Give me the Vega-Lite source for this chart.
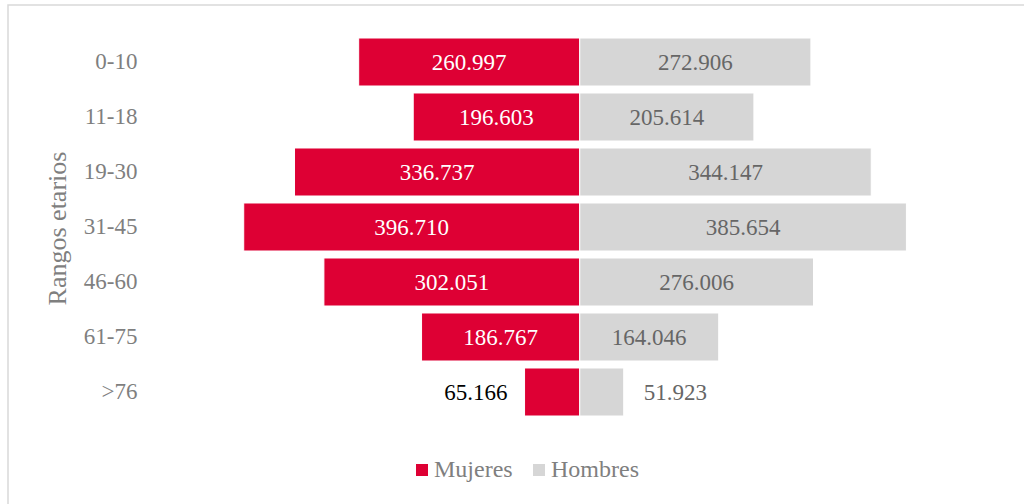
{
  "$schema": "https://vega.github.io/schema/vega-lite/v6.json",
  "width": 1030,
  "height": 510,
  "autosize": {"type": "none"},
  "padding": {"left": 8, "top": 5, "right": 0, "bottom": 0},
  "background": "white",
  "config": {
    "view": {"stroke": "#D9D9D9", "strokeWidth": 1.5},
    "font": "Liberation Serif",
    "locale": {"number": {"decimal": ",", "thousands": ".", "grouping": [3], "currency": ["", ""]}}
  },
  "data": {
    "values": [
      {"grupo": "0-10", "sexo": "Mujeres", "valor": 260997},
      {"grupo": "0-10", "sexo": "Hombres", "valor": 272906},
      {"grupo": "11-18", "sexo": "Mujeres", "valor": 196603},
      {"grupo": "11-18", "sexo": "Hombres", "valor": 205614},
      {"grupo": "19-30", "sexo": "Mujeres", "valor": 336737},
      {"grupo": "19-30", "sexo": "Hombres", "valor": 344147},
      {"grupo": "31-45", "sexo": "Mujeres", "valor": 396710},
      {"grupo": "31-45", "sexo": "Hombres", "valor": 385654},
      {"grupo": "46-60", "sexo": "Mujeres", "valor": 302051},
      {"grupo": "46-60", "sexo": "Hombres", "valor": 276006},
      {"grupo": "61-75", "sexo": "Mujeres", "valor": 186767},
      {"grupo": "61-75", "sexo": "Hombres", "valor": 164046},
      {"grupo": ">76", "sexo": "Mujeres", "valor": 65166},
      {"grupo": ">76", "sexo": "Hombres", "valor": 51923}
    ]
  },
  "transform": [
    {"calculate": "datum.sexo == 'Mujeres' ? -datum.valor : datum.valor", "as": "xv"},
    {"calculate": "datum.xv / 2", "as": "mid"}
  ],
  "encoding": {
    "y": {
      "field": "grupo",
      "type": "nominal",
      "sort": ["0-10", "11-18", "19-30", "31-45", "46-60", "61-75", ">76"],
      "scale": {"paddingInner": 0.127, "paddingOuter": 0, "range": [33, 411]},
      "axis": {
        "title": "Rangos etarios",
        "titleFont": "Liberation Serif",
        "titleFontSize": 26,
        "titleFontWeight": "normal",
        "titleColor": "#7F7F7F",
        "titleAngle": -90,
        "titleX": -80,
        "titleY": 223,
        "titleAlign": "center",
        "titleBaseline": "middle",
        "labelFont": "Liberation Serif",
        "labelFontSize": 23,
        "labelColor": "#7F7F7F",
        "labelPadding": 0,
        "ticks": false,
        "domain": false,
        "grid": false,
        "offset": -129
      }
    }
  },
  "layer": [
    {
      "mark": {"type": "bar", "stroke": "white", "strokeWidth": 1},
      "encoding": {
        "x": {"field": "xv", "type": "quantitative", "scale": {"domain": [-675000, 541000], "nice": false, "zero": false}, "axis": null},
        "color": {
          "field": "sexo",
          "type": "nominal",
          "scale": {"domain": ["Mujeres", "Hombres"], "range": ["#DE0034", "#D6D6D6"]},
          "legend": {
            "orient": "none",
            "legendX": 402,
            "legendY": 453,
            "direction": "horizontal",
            "title": null,
            "symbolType": "square",
            "symbolSize": 144,
            "symbolStrokeWidth": 0,
            "labelFont": "Liberation Serif",
            "labelFontSize": 24,
            "labelColor": "#7F7F7F",
            "labelOffset": 0,
            "columnPadding": 14
          }
        }
      }
    },
    {
      "transform": [{"filter": "datum.grupo != '>76'"}],
      "mark": {"type": "text", "fontSize": 23, "font": "Liberation Serif", "baseline": "middle", "dy": 1},
      "encoding": {
        "x": {"field": "mid", "type": "quantitative"},
        "text": {"field": "valor", "type": "quantitative", "format": ",d"},
        "color": {"condition": {"test": "datum.sexo == 'Mujeres'", "value": "#FFFFFF"}, "value": "#666666"}
      }
    },
    {
      "transform": [{"filter": "datum.grupo == '>76' && datum.sexo == 'Mujeres'"}],
      "mark": {"type": "text", "fontSize": 23, "font": "Liberation Serif", "baseline": "middle", "align": "right", "dx": -17, "dy": 1, "color": "#000000"},
      "encoding": {
        "x": {"field": "xv", "type": "quantitative"},
        "text": {"field": "valor", "type": "quantitative", "format": ",d"}
      }
    },
    {
      "transform": [{"filter": "datum.grupo == '>76' && datum.sexo == 'Hombres'"}],
      "mark": {"type": "text", "fontSize": 23, "font": "Liberation Serif", "baseline": "middle", "align": "left", "dx": 20, "dy": 1, "color": "#666666"},
      "encoding": {
        "x": {"field": "xv", "type": "quantitative"},
        "text": {"field": "valor", "type": "quantitative", "format": ",d"}
      }
    }
  ]
}
